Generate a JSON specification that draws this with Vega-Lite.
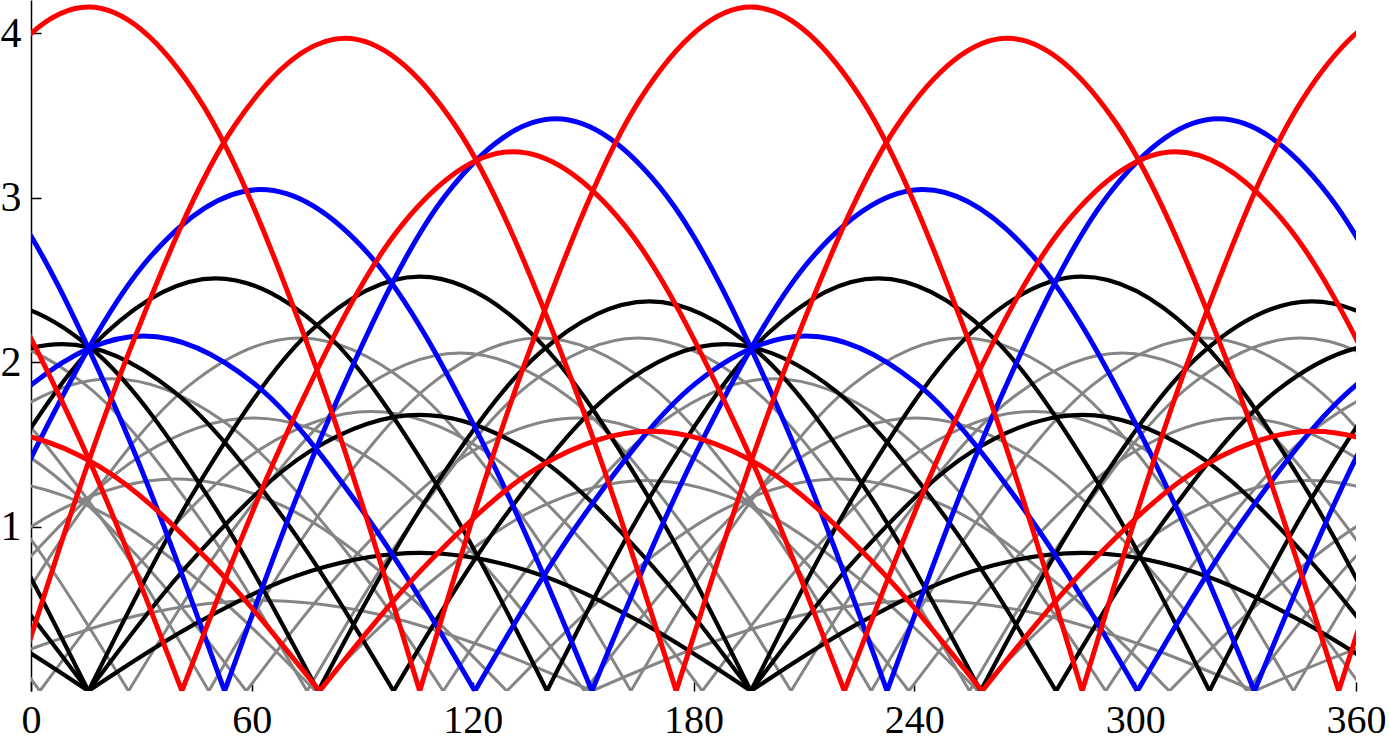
{
"$schema":"https://vega.github.io/schema/vega-lite/v6.json",
"width":1325,"height":691,
"autosize":{"type":"none"},
"padding":{"left":31,"top":0,"right":33,"bottom":51},
"background":"white",
"config":{"view":{"stroke":null}},
"datasets":{
"red":[
{"s":"R1a","x":-44.4,"y":2.08},{"s":"R1a","x":-14.4,"y":3.603},{"s":"R1a","x":15.6,"y":4.16},{"s":"R1a","x":45.6,"y":3.603},{"s":"R1a","x":75.6,"y":2.08},{"s":"R1a","x":105.6,"y":0},
{"s":"R1b","x":105.6,"y":0},{"s":"R1b","x":135.6,"y":2.08},{"s":"R1b","x":165.6,"y":3.603},{"s":"R1b","x":195.6,"y":4.16},{"s":"R1b","x":225.6,"y":3.603},{"s":"R1b","x":255.6,"y":2.08},{"s":"R1b","x":285.6,"y":0},
{"s":"R1c","x":285.6,"y":0},{"s":"R1c","x":315.6,"y":2.08},{"s":"R1c","x":345.6,"y":3.603},{"s":"R1c","x":375.6,"y":4.16},{"s":"R1c","x":405.6,"y":3.603},
{"s":"R2a","x":-4.7,"y":0},{"s":"R2a","x":25.3,"y":1.985},{"s":"R2a","x":55.3,"y":3.438},{"s":"R2a","x":85.3,"y":3.97},{"s":"R2a","x":115.3,"y":3.438},{"s":"R2a","x":145.3,"y":1.985},{"s":"R2a","x":175.3,"y":0},
{"s":"R2b","x":175.3,"y":0},{"s":"R2b","x":205.3,"y":1.985},{"s":"R2b","x":235.3,"y":3.438},{"s":"R2b","x":265.3,"y":3.97},{"s":"R2b","x":295.3,"y":3.438},{"s":"R2b","x":325.3,"y":1.985},{"s":"R2b","x":355.3,"y":0},
{"s":"R2c","x":355.3,"y":0},{"s":"R2c","x":385.3,"y":1.985},{"s":"R2c","x":415.3,"y":3.438},
{"s":"R3a","x":-49,"y":3.28},{"s":"R3a","x":-19,"y":2.84},{"s":"R3a","x":11,"y":1.64},{"s":"R3a","x":41,"y":0},
{"s":"R3b","x":41,"y":0},{"s":"R3b","x":71,"y":1.64},{"s":"R3b","x":101,"y":2.84},{"s":"R3b","x":131,"y":3.28},{"s":"R3b","x":161,"y":2.84},{"s":"R3b","x":191,"y":1.64},{"s":"R3b","x":221,"y":0},
{"s":"R3c","x":221,"y":0},{"s":"R3c","x":251,"y":1.64},{"s":"R3c","x":281,"y":2.84},{"s":"R3c","x":311,"y":3.28},{"s":"R3c","x":341,"y":2.84},{"s":"R3c","x":371,"y":1.64},{"s":"R3c","x":401,"y":0},
{"s":"R4a","x":-41.6,"y":1.368},{"s":"R4a","x":-11.6,"y":1.58},{"s":"R4a","x":18.4,"y":1.368},{"s":"R4a","x":48.4,"y":0.79},{"s":"R4a","x":78.4,"y":0},
{"s":"R4b","x":78.4,"y":0},{"s":"R4b","x":108.4,"y":0.79},{"s":"R4b","x":138.4,"y":1.368},{"s":"R4b","x":168.4,"y":1.58},{"s":"R4b","x":198.4,"y":1.368},{"s":"R4b","x":228.4,"y":0.79},{"s":"R4b","x":258.4,"y":0},
{"s":"R4c","x":258.4,"y":0},{"s":"R4c","x":288.4,"y":0.79},{"s":"R4c","x":318.4,"y":1.368},{"s":"R4c","x":348.4,"y":1.58},{"s":"R4c","x":378.4,"y":1.368},{"s":"R4c","x":408.4,"y":0.79}
],
"blue":[
{"s":"B1a","x":-37.4,"y":3.48},{"s":"B1a","x":-7.4,"y":3.014},{"s":"B1a","x":22.6,"y":1.74},{"s":"B1a","x":52.6,"y":0},
{"s":"B1b","x":52.6,"y":0},{"s":"B1b","x":82.6,"y":1.74},{"s":"B1b","x":112.6,"y":3.014},{"s":"B1b","x":142.6,"y":3.48},{"s":"B1b","x":172.6,"y":3.014},{"s":"B1b","x":202.6,"y":1.74},{"s":"B1b","x":232.6,"y":0},
{"s":"B1c","x":232.6,"y":0},{"s":"B1c","x":262.6,"y":1.74},{"s":"B1c","x":292.6,"y":3.014},{"s":"B1c","x":322.6,"y":3.48},{"s":"B1c","x":352.6,"y":3.014},{"s":"B1c","x":382.6,"y":1.74},{"s":"B1c","x":412.6,"y":0},
{"s":"B2a","x":-27.6,"y":0},{"s":"B2a","x":2.4,"y":1.525},{"s":"B2a","x":32.4,"y":2.641},{"s":"B2a","x":62.4,"y":3.05},{"s":"B2a","x":92.4,"y":2.641},{"s":"B2a","x":122.4,"y":1.525},{"s":"B2a","x":152.4,"y":0},
{"s":"B2b","x":152.4,"y":0},{"s":"B2b","x":182.4,"y":1.525},{"s":"B2b","x":212.4,"y":2.641},{"s":"B2b","x":242.4,"y":3.05},{"s":"B2b","x":272.4,"y":2.641},{"s":"B2b","x":302.4,"y":1.525},{"s":"B2b","x":332.4,"y":0},
{"s":"B2c","x":332.4,"y":0},{"s":"B2c","x":362.4,"y":1.525},{"s":"B2c","x":392.4,"y":2.641},
{"s":"B3a","x":-59.4,"y":0},{"s":"B3a","x":-29.4,"y":1.08},{"s":"B3a","x":0.6,"y":1.871},{"s":"B3a","x":30.6,"y":2.16},{"s":"B3a","x":60.6,"y":1.871},{"s":"B3a","x":90.6,"y":1.08},{"s":"B3a","x":120.6,"y":0},
{"s":"B3b","x":120.6,"y":0},{"s":"B3b","x":150.6,"y":1.08},{"s":"B3b","x":180.6,"y":1.871},{"s":"B3b","x":210.6,"y":2.16},{"s":"B3b","x":240.6,"y":1.871},{"s":"B3b","x":270.6,"y":1.08},{"s":"B3b","x":300.6,"y":0},
{"s":"B3c","x":300.6,"y":0},{"s":"B3c","x":330.6,"y":1.08},{"s":"B3c","x":360.6,"y":1.871},{"s":"B3c","x":390.6,"y":2.16}
],
"black":[
{"s":"K1a","x":-44.4,"y":0.727},{"s":"K1a","x":-14.4,"y":0.42},{"s":"K1a","x":15.6,"y":0},
{"s":"K1b","x":15.6,"y":0},{"s":"K1b","x":45.6,"y":0.42},{"s":"K1b","x":75.6,"y":0.727},{"s":"K1b","x":105.6,"y":0.84},{"s":"K1b","x":135.6,"y":0.727},{"s":"K1b","x":165.6,"y":0.42},{"s":"K1b","x":195.6,"y":0},
{"s":"K1c","x":195.6,"y":0},{"s":"K1c","x":225.6,"y":0.42},{"s":"K1c","x":255.6,"y":0.727},{"s":"K1c","x":285.6,"y":0.84},{"s":"K1c","x":315.6,"y":0.727},{"s":"K1c","x":345.6,"y":0.42},{"s":"K1c","x":375.6,"y":0},
{"s":"K2a","x":-44.4,"y":1.455},{"s":"K2a","x":-14.4,"y":0.84},{"s":"K2a","x":15.6,"y":0},
{"s":"K2b","x":15.6,"y":0},{"s":"K2b","x":45.6,"y":0.84},{"s":"K2b","x":75.6,"y":1.455},{"s":"K2b","x":105.6,"y":1.68},{"s":"K2b","x":135.6,"y":1.455},{"s":"K2b","x":165.6,"y":0.84},{"s":"K2b","x":195.6,"y":0},
{"s":"K2c","x":195.6,"y":0},{"s":"K2c","x":225.6,"y":0.84},{"s":"K2c","x":255.6,"y":1.455},{"s":"K2c","x":285.6,"y":1.68},{"s":"K2c","x":315.6,"y":1.455},{"s":"K2c","x":345.6,"y":0.84},{"s":"K2c","x":375.6,"y":0},
{"s":"K3a","x":-44.4,"y":2.182},{"s":"K3a","x":-14.4,"y":1.26},{"s":"K3a","x":15.6,"y":0},
{"s":"K3b","x":15.6,"y":0},{"s":"K3b","x":45.6,"y":1.26},{"s":"K3b","x":75.6,"y":2.182},{"s":"K3b","x":105.6,"y":2.52},{"s":"K3b","x":135.6,"y":2.182},{"s":"K3b","x":165.6,"y":1.26},{"s":"K3b","x":195.6,"y":0},
{"s":"K3c","x":195.6,"y":0},{"s":"K3c","x":225.6,"y":1.26},{"s":"K3c","x":255.6,"y":2.182},{"s":"K3c","x":285.6,"y":2.52},{"s":"K3c","x":315.6,"y":2.182},{"s":"K3c","x":345.6,"y":1.26},{"s":"K3c","x":375.6,"y":0},
{"s":"K4a","x":-39.8,"y":0},{"s":"K4a","x":-9.8,"y":1.255},{"s":"K4a","x":20.2,"y":2.174},{"s":"K4a","x":50.2,"y":2.51},{"s":"K4a","x":80.2,"y":2.174},{"s":"K4a","x":110.2,"y":1.255},{"s":"K4a","x":140.2,"y":0},
{"s":"K4b","x":140.2,"y":0},{"s":"K4b","x":170.2,"y":1.255},{"s":"K4b","x":200.2,"y":2.174},{"s":"K4b","x":230.2,"y":2.51},{"s":"K4b","x":260.2,"y":2.174},{"s":"K4b","x":290.2,"y":1.255},{"s":"K4b","x":320.2,"y":0},
{"s":"K4c","x":320.2,"y":0},{"s":"K4c","x":350.2,"y":1.255},{"s":"K4c","x":380.2,"y":2.174},{"s":"K4c","x":410.2,"y":2.51},
{"s":"K5a","x":-42,"y":2.052},{"s":"K5a","x":-12,"y":2.37},{"s":"K5a","x":18,"y":2.052},{"s":"K5a","x":48,"y":1.185},{"s":"K5a","x":78,"y":0},
{"s":"K5b","x":78,"y":0},{"s":"K5b","x":108,"y":1.185},{"s":"K5b","x":138,"y":2.052},{"s":"K5b","x":168,"y":2.37},{"s":"K5b","x":198,"y":2.052},{"s":"K5b","x":228,"y":1.185},{"s":"K5b","x":258,"y":0},
{"s":"K5c","x":258,"y":0},{"s":"K5c","x":288,"y":1.185},{"s":"K5c","x":318,"y":2.052},{"s":"K5c","x":348,"y":2.37},{"s":"K5c","x":378,"y":2.052},{"s":"K5c","x":408,"y":1.185},
{"s":"K6a","x":-51.5,"y":1.055},{"s":"K6a","x":-21.5,"y":1.827},{"s":"K6a","x":8.5,"y":2.11},{"s":"K6a","x":38.5,"y":1.827},{"s":"K6a","x":68.5,"y":1.055},{"s":"K6a","x":98.5,"y":0},
{"s":"K6b","x":98.5,"y":0},{"s":"K6b","x":128.5,"y":1.055},{"s":"K6b","x":158.5,"y":1.827},{"s":"K6b","x":188.5,"y":2.11},{"s":"K6b","x":218.5,"y":1.827},{"s":"K6b","x":248.5,"y":1.055},{"s":"K6b","x":278.5,"y":0},
{"s":"K6c","x":278.5,"y":0},{"s":"K6c","x":308.5,"y":1.055},{"s":"K6c","x":338.5,"y":1.827},{"s":"K6c","x":368.5,"y":2.11},{"s":"K6c","x":398.5,"y":1.827}
],
"gray":[
{"s":"G1a","x":-57.6,"y":1.472},{"s":"G1a","x":-27.6,"y":0.85},{"s":"G1a","x":2.4,"y":0},
{"s":"G1b","x":2.4,"y":0},{"s":"G1b","x":32.4,"y":0.85},{"s":"G1b","x":62.4,"y":1.472},{"s":"G1b","x":92.4,"y":1.7},{"s":"G1b","x":122.4,"y":1.472},{"s":"G1b","x":152.4,"y":0.85},{"s":"G1b","x":182.4,"y":0},
{"s":"G1c","x":182.4,"y":0},{"s":"G1c","x":212.4,"y":0.85},{"s":"G1c","x":242.4,"y":1.472},{"s":"G1c","x":272.4,"y":1.7},{"s":"G1c","x":302.4,"y":1.472},{"s":"G1c","x":332.4,"y":0.85},{"s":"G1c","x":362.4,"y":0},
{"s":"G2a","x":-33.5,"y":1.781},{"s":"G2a","x":-3.5,"y":1.028},{"s":"G2a","x":26.5,"y":0},
{"s":"G2b","x":26.5,"y":0},{"s":"G2b","x":56.5,"y":1.028},{"s":"G2b","x":86.5,"y":1.781},{"s":"G2b","x":116.5,"y":2.056},{"s":"G2b","x":146.5,"y":1.781},{"s":"G2b","x":176.5,"y":1.028},{"s":"G2b","x":206.5,"y":0},
{"s":"G2c","x":206.5,"y":0},{"s":"G2c","x":236.5,"y":1.028},{"s":"G2c","x":266.5,"y":1.781},{"s":"G2c","x":296.5,"y":2.056},{"s":"G2c","x":326.5,"y":1.781},{"s":"G2c","x":356.5,"y":1.028},{"s":"G2c","x":386.5,"y":0},
{"s":"G3a","x":-41.7,"y":2.147},{"s":"G3a","x":-11.7,"y":1.859},{"s":"G3a","x":18.3,"y":1.074},{"s":"G3a","x":48.3,"y":0},
{"s":"G3b","x":48.3,"y":0},{"s":"G3b","x":78.3,"y":1.074},{"s":"G3b","x":108.3,"y":1.859},{"s":"G3b","x":138.3,"y":2.147},{"s":"G3b","x":168.3,"y":1.859},{"s":"G3b","x":198.3,"y":1.074},{"s":"G3b","x":228.3,"y":0},
{"s":"G3c","x":228.3,"y":0},{"s":"G3c","x":258.3,"y":1.074},{"s":"G3c","x":288.3,"y":1.859},{"s":"G3c","x":318.3,"y":2.147},{"s":"G3c","x":348.3,"y":1.859},{"s":"G3c","x":378.3,"y":1.074},{"s":"G3c","x":408.3,"y":0},
{"s":"G4a","x":-45,"y":1.859},{"s":"G4a","x":-15,"y":2.147},{"s":"G4a","x":15,"y":1.859},{"s":"G4a","x":45,"y":1.074},{"s":"G4a","x":75,"y":0},
{"s":"G4b","x":75,"y":0},{"s":"G4b","x":105,"y":1.074},{"s":"G4b","x":135,"y":1.859},{"s":"G4b","x":165,"y":2.147},{"s":"G4b","x":195,"y":1.859},{"s":"G4b","x":225,"y":1.074},{"s":"G4b","x":255,"y":0},
{"s":"G4c","x":255,"y":0},{"s":"G4c","x":285,"y":1.074},{"s":"G4c","x":315,"y":1.859},{"s":"G4c","x":345,"y":2.147},{"s":"G4c","x":375,"y":1.859},{"s":"G4c","x":405,"y":1.074},
{"s":"G5a","x":-38,"y":0.95},{"s":"G5a","x":-8,"y":1.645},{"s":"G5a","x":22,"y":1.9},{"s":"G5a","x":52,"y":1.645},{"s":"G5a","x":82,"y":0.95},{"s":"G5a","x":112,"y":0},
{"s":"G5b","x":112,"y":0},{"s":"G5b","x":142,"y":0.95},{"s":"G5b","x":172,"y":1.645},{"s":"G5b","x":202,"y":1.9},{"s":"G5b","x":232,"y":1.645},{"s":"G5b","x":262,"y":0.95},{"s":"G5b","x":292,"y":0},
{"s":"G5c","x":292,"y":0},{"s":"G5c","x":322,"y":0.95},{"s":"G5c","x":352,"y":1.645},{"s":"G5c","x":382,"y":1.9},{"s":"G5c","x":412,"y":1.645},
{"s":"G6a","x":-27.6,"y":0},{"s":"G6a","x":2.4,"y":0.275},{"s":"G6a","x":32.4,"y":0.476},{"s":"G6a","x":62.4,"y":0.55},{"s":"G6a","x":92.4,"y":0.476},{"s":"G6a","x":122.4,"y":0.275},{"s":"G6a","x":152.4,"y":0},
{"s":"G6b","x":152.4,"y":0},{"s":"G6b","x":182.4,"y":0.275},{"s":"G6b","x":212.4,"y":0.476},{"s":"G6b","x":242.4,"y":0.55},{"s":"G6b","x":272.4,"y":0.476},{"s":"G6b","x":302.4,"y":0.275},{"s":"G6b","x":332.4,"y":0},
{"s":"G6c","x":332.4,"y":0},{"s":"G6c","x":362.4,"y":0.275},{"s":"G6c","x":392.4,"y":0.476},
{"s":"G7a","x":-17,"y":0},{"s":"G7a","x":13,"y":1.074},{"s":"G7a","x":43,"y":1.859},{"s":"G7a","x":73,"y":2.147},{"s":"G7a","x":103,"y":1.859},{"s":"G7a","x":133,"y":1.074},{"s":"G7a","x":163,"y":0},
{"s":"G7b","x":163,"y":0},{"s":"G7b","x":193,"y":1.074},{"s":"G7b","x":223,"y":1.859},{"s":"G7b","x":253,"y":2.147},{"s":"G7b","x":283,"y":1.859},{"s":"G7b","x":313,"y":1.074},{"s":"G7b","x":343,"y":0},
{"s":"G7c","x":343,"y":0},{"s":"G7c","x":373,"y":1.074},{"s":"G7c","x":403,"y":1.859},
{"s":"G8a","x":-42.7,"y":1.108},{"s":"G8a","x":-12.7,"y":1.28},{"s":"G8a","x":17.3,"y":1.108},{"s":"G8a","x":47.3,"y":0.64},{"s":"G8a","x":77.3,"y":0},
{"s":"G8b","x":77.3,"y":0},{"s":"G8b","x":107.3,"y":0.64},{"s":"G8b","x":137.3,"y":1.108},{"s":"G8b","x":167.3,"y":1.28},{"s":"G8b","x":197.3,"y":1.108},{"s":"G8b","x":227.3,"y":0.64},{"s":"G8b","x":257.3,"y":0},
{"s":"G8c","x":257.3,"y":0},{"s":"G8c","x":287.3,"y":0.64},{"s":"G8c","x":317.3,"y":1.108},{"s":"G8c","x":347.3,"y":1.28},{"s":"G8c","x":377.3,"y":1.108},{"s":"G8c","x":407.3,"y":0.64},
{"s":"G9a","x":-50.7,"y":0},{"s":"G9a","x":-20.7,"y":0.645},{"s":"G9a","x":9.3,"y":1.117},{"s":"G9a","x":39.3,"y":1.29},{"s":"G9a","x":69.3,"y":1.117},{"s":"G9a","x":99.3,"y":0.645},{"s":"G9a","x":129.3,"y":0},
{"s":"G9b","x":129.3,"y":0},{"s":"G9b","x":159.3,"y":0.645},{"s":"G9b","x":189.3,"y":1.117},{"s":"G9b","x":219.3,"y":1.29},{"s":"G9b","x":249.3,"y":1.117},{"s":"G9b","x":279.3,"y":0.645},{"s":"G9b","x":309.3,"y":0},
{"s":"G9c","x":309.3,"y":0},{"s":"G9c","x":339.3,"y":0.645},{"s":"G9c","x":369.3,"y":1.117},{"s":"G9c","x":399.3,"y":1.29},
{"s":"G10a","x":-29.6,"y":0},{"s":"G10a","x":0.4,"y":0.83},{"s":"G10a","x":30.4,"y":1.438},{"s":"G10a","x":60.4,"y":1.66},{"s":"G10a","x":90.4,"y":1.438},{"s":"G10a","x":120.4,"y":0.83},{"s":"G10a","x":150.4,"y":0},
{"s":"G10b","x":150.4,"y":0},{"s":"G10b","x":180.4,"y":0.83},{"s":"G10b","x":210.4,"y":1.438},{"s":"G10b","x":240.4,"y":1.66},{"s":"G10b","x":270.4,"y":1.438},{"s":"G10b","x":300.4,"y":0.83},{"s":"G10b","x":330.4,"y":0},
{"s":"G10c","x":330.4,"y":0},{"s":"G10c","x":360.4,"y":0.83},{"s":"G10c","x":390.4,"y":1.438},
{"s":"G11a","x":-31.5,"y":1.66},{"s":"G11a","x":-1.5,"y":1.438},{"s":"G11a","x":28.5,"y":0.83},{"s":"G11a","x":58.5,"y":0},
{"s":"G11b","x":58.5,"y":0},{"s":"G11b","x":88.5,"y":0.83},{"s":"G11b","x":118.5,"y":1.438},{"s":"G11b","x":148.5,"y":1.66},{"s":"G11b","x":178.5,"y":1.438},{"s":"G11b","x":208.5,"y":0.83},{"s":"G11b","x":238.5,"y":0},
{"s":"G11c","x":238.5,"y":0},{"s":"G11c","x":268.5,"y":0.83},{"s":"G11c","x":298.5,"y":1.438},{"s":"G11c","x":328.5,"y":1.66},{"s":"G11c","x":358.5,"y":1.438},{"s":"G11c","x":388.5,"y":0.83},{"s":"G11c","x":418.5,"y":0}
]
},
"encoding":{
"x":{"field":"x","type":"quantitative","scale":{"domain":[0,360],"nice":false,"zero":false},
"axis":{"values":[0,60,120,180,240,300,360],"domain":false,"grid":false,"tickSize":-9,"tickColor":"black","tickWidth":1.5,"labelFont":"Liberation Serif","labelFontSize":40,"labelColor":"black","labelPadding":18,"labelFlush":false,"labelOverlap":false,"title":null}},
"y":{"field":"y","type":"quantitative","scale":{"domain":[0,4.203],"nice":false,"zero":false},
"axis":{"values":[1,2,3,4],"domain":true,"domainColor":"black","domainWidth":1.5,"grid":false,"tickSize":-10,"tickColor":"black","tickWidth":1.5,"labelFont":"Liberation Serif","labelFontSize":42,"labelColor":"black","labelPadding":20,"labelFlush":false,"labelOverlap":false,"title":null}}
},
"layer":[
{"data":{"name":"gray"},"mark":{"type":"line","interpolate":"monotone","clip":true,"color":"#858585","strokeWidth":3},"encoding":{"detail":{"field":"s","type":"nominal"}}},
{"data":{"name":"black"},"mark":{"type":"line","interpolate":"monotone","clip":true,"color":"#000000","strokeWidth":4.2},"encoding":{"detail":{"field":"s","type":"nominal"}}},
{"data":{"name":"blue"},"mark":{"type":"line","interpolate":"monotone","clip":true,"color":"#0000ff","strokeWidth":5},"encoding":{"detail":{"field":"s","type":"nominal"}}},
{"data":{"name":"red"},"mark":{"type":"line","interpolate":"monotone","clip":true,"color":"#ff0000","strokeWidth":5},"encoding":{"detail":{"field":"s","type":"nominal"}}},
{"data":{"values":[{}]},"mark":{"type":"rule","color":"#333333","strokeWidth":2},"encoding":{"x":{"datum":-7.6},"x2":{"datum":367.1},"y":{"datum":0}}}
]
}
